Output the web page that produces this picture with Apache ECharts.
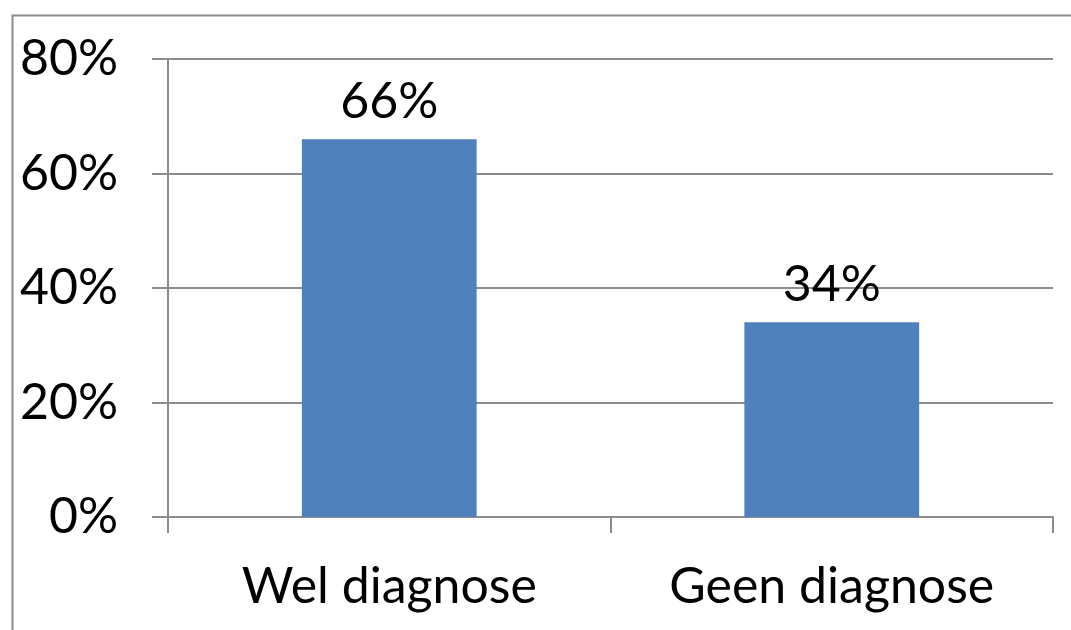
<!DOCTYPE html>
<html><head><meta charset="utf-8">
<script src="https://cdn.jsdelivr.net/npm/echarts@6/dist/echarts.min.js"></script>
<style>html,body{margin:0;padding:0;background:#fff}#c{width:1071px;height:630px}</style>
</head><body><div id="c"></div>
<script>
const categories = ['Wel diagnose', 'Geen diagnose'];
const values = [66, 34];
const yTicks = [0, 20, 40, 60, 80];

const chart = echarts.init(document.getElementById('c'), null, {renderer: 'canvas'});
const font = 'Lato';
chart.setOption({
  animation: false,
  backgroundColor: '#fff',
  graphic: [{
    type: 'rect', left: 10, top: 13,
    shape: {width: 1200, height: 800},
    style: {fill: 'none', stroke: '#8c8c8c', lineWidth: 2}
  }],
  grid: {left: 168, right: 18, top: 59, bottom: 113, containLabel: false},
  xAxis: {
    type: 'category', data: categories,
    axisLine: {show: true, lineStyle: {color: '#8c8c8c', width: 2}},
    axisTick: {show: true, length: 16, lineStyle: {color: '#8c8c8c', width: 2}},
    axisLabel: {fontFamily: font, fontSize: 50, color: '#000', margin: 45}
  },
  yAxis: {
    type: 'value', min: yTicks[0], max: yTicks[yTicks.length - 1], interval: 20,
    axisLine: {show: true, lineStyle: {color: '#8c8c8c', width: 2}},
    axisTick: {show: true, length: 16, lineStyle: {color: '#8c8c8c', width: 2}},
    splitLine: {show: true, lineStyle: {color: '#8c8c8c', width: 2}},
    axisLabel: {fontFamily: font, fontSize: 50, color: '#000', margin: 50, formatter: v => v + '%'}
  },
  series: [{
    type: 'bar', data: values, barWidth: '39.5%',
    itemStyle: {color: '#4F81BD'},
    label: {show: true, position: 'top', distance: 12, fontFamily: font, fontSize: 50, color: '#000', formatter: p => p.value + '%'}
  }]
});
</script></body></html>
